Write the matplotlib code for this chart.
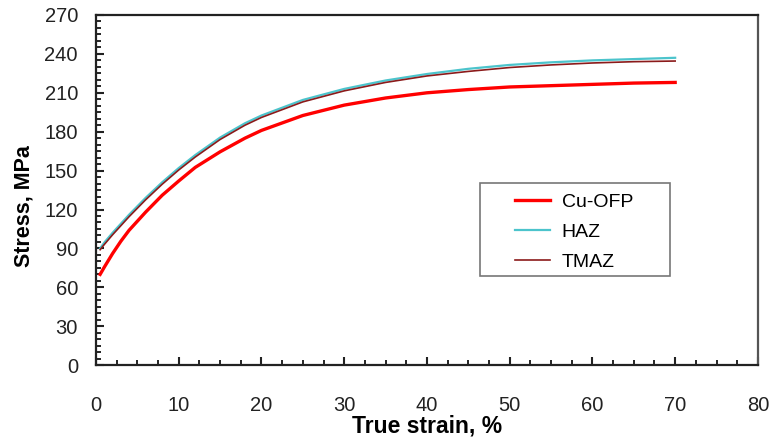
import matplotlib.pyplot as plt
from matplotlib.ticker import MultipleLocator
from matplotlib.patches import Rectangle

strain = [0.5, 1, 2, 3, 4, 6, 8, 10, 12, 15, 18, 20, 25, 30, 35, 40, 45, 50, 55, 60, 65, 70]
cu_ofp = [70, 75.5, 86, 95.5, 104, 118, 131, 142, 152.5, 164.5, 175, 181, 192.5, 200.5, 206, 210, 212.5, 214.5, 215.5, 216.5, 217.5, 218]
haz = [90, 94.5, 102, 109, 116, 129, 141, 152, 162, 175.5, 186.5, 192.5, 204.5, 213, 219.5, 224.5, 228.5, 231.5, 233.5, 235, 236, 237]
tmaz = [89, 93, 100.5, 107.5, 114.5, 127.5, 139.5, 150.5, 160.5, 174, 185, 191, 203, 211.5, 218, 223, 226.5, 229.5, 231.5, 233, 234, 234.5]

plt.rcParams['font.family'] = ['Liberation Sans', 'DejaVu Sans']

fig = plt.figure(figsize=(7.71, 4.41), dpi=100)
ax = fig.add_axes([0.1245, 0.172, 0.8585, 0.794])

ax.plot(strain, cu_ofp, color='#ff0000', lw=2.4, label='Cu-OFP')
ax.plot(strain, haz, color='#4cc4cc', lw=1.6, label='HAZ')
ax.plot(strain, tmaz, color='#8b1a1a', lw=1.2, label='TMAZ')

ax.set_xlim(0, 80)
ax.set_ylim(0, 270)
ax.xaxis.set_major_locator(MultipleLocator(10))
ax.xaxis.set_minor_locator(MultipleLocator(2.5))
ax.yaxis.set_major_locator(MultipleLocator(30))
ax.yaxis.set_minor_locator(MultipleLocator(5))
ax.tick_params(which='major', direction='in', length=6, width=1.5, labelsize=14.5, colors='#222')
ax.tick_params(which='minor', direction='in', length=3.5, width=1.2)
ax.tick_params(axis='x', pad=22)
ax.tick_params(axis='y', pad=13)
for s in ax.spines.values():
    s.set_linewidth(1.6)
    s.set_color('#222')
ax.spines['right'].set_color('#555')

ax.set_xlabel('True strain, %', fontsize=16.5, fontweight='bold', labelpad=0)
ax.set_ylabel('Stress, MPa', fontsize=15.5, fontweight='bold')
ax.yaxis.set_label_coords(-0.093, 0.454)

# legend frame drawn separately for the wide side margins
ax.add_patch(Rectangle((0.580, 0.254), 0.287, 0.266, transform=ax.transAxes,
                       fill=False, edgecolor='#777', lw=1.2, zorder=4))
ax.legend(loc='upper left', bbox_to_anchor=(0.633, 0.49), fontsize=14,
          frameon=False, handlelength=1.8, labelspacing=0.64,
          borderpad=0, borderaxespad=0, handletextpad=0.6)

fig.savefig('out.png', dpi=100)
